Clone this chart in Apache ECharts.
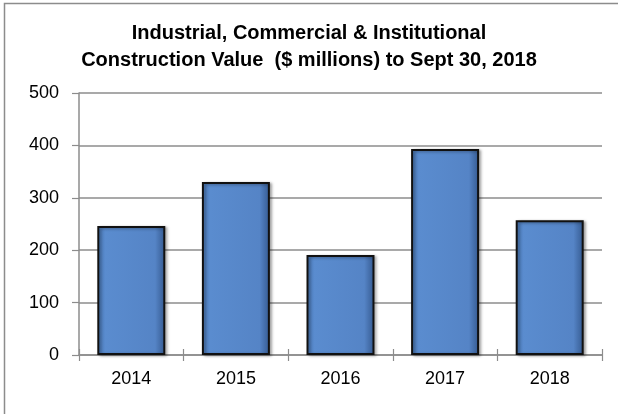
<!DOCTYPE html>
<html>
<head>
<meta charset="utf-8">
<script src="https://cdn.jsdelivr.net/npm/echarts@6/dist/echarts.min.js"></script>
<style>
  html, body { margin: 0; padding: 0; background: #fff; }
  #chart { width: 618px; height: 414px; }
</style>
</head>
<body>
<div id="chart"></div>
<script>
const years = ['2014', '2015', '2016', '2017', '2018']
const values = [246, 330, 191, 393, 257]
const yTicks = [0, 100, 200, 300, 400, 500]

const chart = echarts.init(document.getElementById('chart'))
const gray = '#8c8c8c'
const font = '"Liberation Sans", Arial, sans-serif'

chart.setOption({
  animation: false,
  title: {
    text: 'Industrial, Commercial & Institutional\nConstruction Value  ($ millions) to Sept 30, 2018',
    left: 'center',
    top: 15,
    textStyle: {
      fontFamily: font,
      fontWeight: 'bold',
      fontSize: 20,
      lineHeight: 27,
      color: '#000'
    }
  },
  // outer frame, cut off on the right and bottom like the reference
  graphic: [{
    type: 'rect',
    shape: { x: 4.5, y: 3.5, width: 616, height: 414 },
    style: { fill: 'none', stroke: '#8c8c8c', lineWidth: 1.5 },
    silent: true
  }],
  grid: { left: 79, right: 16, top: 93, bottom: 59 },
  xAxis: [{
    type: 'category',
    data: years,
    axisLine: { lineStyle: { color: gray, width: 1.5 } },
    axisTick: { show: true, length: 6, lineStyle: { color: gray, width: 1.2 } },
    axisLabel: { color: '#000', fontFamily: font, fontSize: 18, margin: 15 }
  }, {
    type: 'category',
    data: years,
    position: 'bottom',
    axisLine: { show: false },
    axisTick: { show: true, inside: true, length: 6, lineStyle: { color: gray, width: 1.2 } },
    axisLabel: { show: false }
  }],
  yAxis: {
    type: 'value',
    min: 0,
    max: 500,
    interval: 100,
    axisLine: { show: true, lineStyle: { color: gray, width: 1.5 } },
    axisTick: { show: true, length: 7, lineStyle: { color: gray, width: 1.2 } },
    splitLine: { lineStyle: { color: gray, width: 1.5 } },
    axisLabel: {
      color: '#000',
      fontFamily: font,
      fontSize: 18,
      margin: 20,
      formatter: v => yTicks.includes(v) ? String(v) : ''
    }
  },
  series: [{
    type: 'bar',
    data: values,
    barCategoryGap: '35%',
    itemStyle: {
      color: new echarts.graphic.LinearGradient(0, 0, 1, 0, [
        { offset: 0, color: '#4b7bbb' },
        { offset: 0.12, color: '#5a8ccf' },
        { offset: 0.85, color: '#5584c6' },
        { offset: 1, color: '#34598f' }
      ]),
      borderColor: '#111',
      borderWidth: 2,
      shadowColor: 'rgba(0,0,0,0.35)',
      shadowBlur: 3,
      shadowOffsetX: 2,
      shadowOffsetY: 1
    }
  }]
})
</script>
</body>
</html>
